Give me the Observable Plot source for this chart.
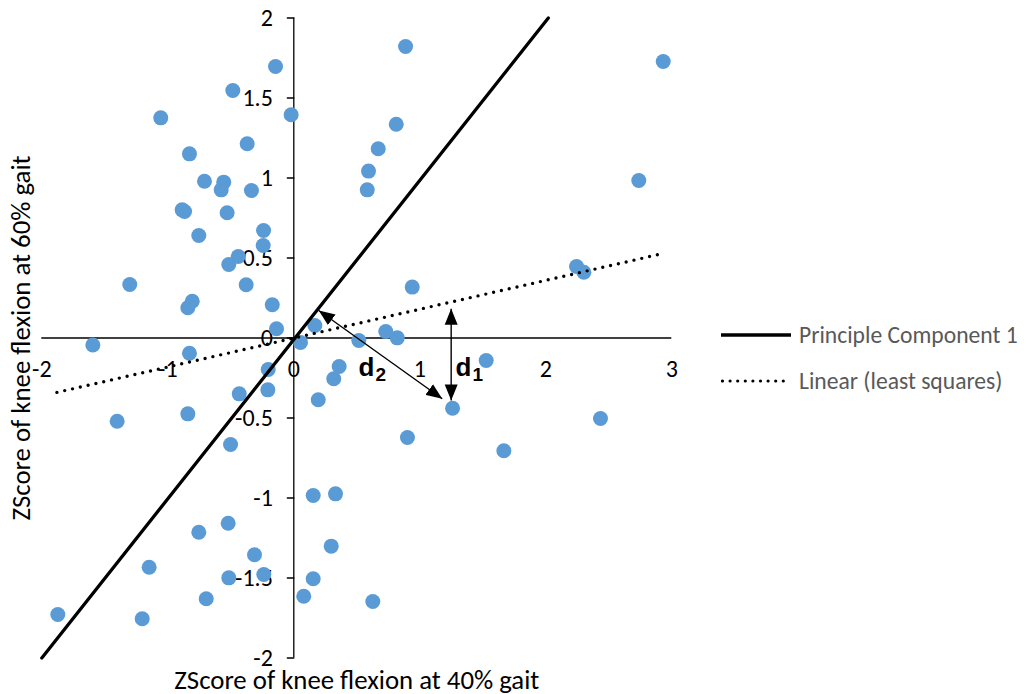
<!DOCTYPE html>
<html><head><meta charset="utf-8">
<script src="https://cdn.jsdelivr.net/npm/d3@7"></script>
<script src="https://cdn.jsdelivr.net/npm/@observablehq/plot@0.6"></script>
<style>
body{margin:0;background:#fff;}
#wrap{position:relative;width:1026px;height:694px;font-family:Carlito,Calibri,Lato,sans-serif;}
#legend{position:absolute;left:721px;top:312px;color:#595959;font-size:23.6px;}
#legend .item{display:flex;align-items:center;height:46px;white-space:nowrap;}
#legend svg{margin-right:6px;}
</style></head><body><div id="wrap"><div id="legend"></div></div>
<script>
// scatter points (ZScore at 40% gait, ZScore at 60% gait)
const ptX = [-0.145,-0.484,-1.056,-0.021,-0.370,-0.828,-0.709,-0.556,-0.576,-0.336,
  -0.886,-0.867,-0.529,-0.754,-0.240,-0.243,-0.441,-0.516,-1.302,-0.378,
  -0.806,-0.841,-0.171,-0.137,0.167,-1.595,0.053,-0.828,0.887,2.932,
  0.813,0.670,0.593,0.583,2.738,2.244,2.302,0.940,0.730,0.821,
  0.516,-0.203,0.360,0.317,-0.433,-0.206,0.194,-1.402,-0.841,-0.502,
  0.154,0.331,-0.754,-0.521,0.297,-0.312,-1.148,-0.238,-0.516,0.154,
  -0.695,0.079,-1.873,-1.203,0.627,1.527,1.260,2.434,0.902,1.667];
const ptY = [1.697,1.547,1.376,1.395,1.214,1.151,0.980,0.974,0.926,0.922,
  0.801,0.791,0.783,0.641,0.672,0.578,0.509,0.459,0.334,0.333,
  0.230,0.189,0.208,0.058,0.078,-0.044,-0.028,-0.095,1.822,1.728,
  1.336,1.183,1.043,0.926,0.984,0.447,0.411,0.318,0.041,0.001,
  -0.016,-0.197,-0.178,-0.255,-0.349,-0.324,-0.386,-0.520,-0.474,-0.666,
  -0.984,-0.974,-1.214,-1.158,-1.301,-1.355,-1.433,-1.478,-1.499,-1.505,
  -1.630,-1.614,-1.728,-1.755,-1.647,-0.141,-0.439,-0.503,-0.622,-0.705];

// lines
const pcX = [-2, 2.02];          // Principle Component 1
const pcY = [-2, 2];
const lsX = [-1.88, 2.94];       // Linear (least squares)
const lsY = [-0.34, 0.53];

// distance arrows d2 (perpendicular) and d1 (vertical)
const arrowX1 = [0.198, 1.249];
const arrowY1 = [0.172, 0.183];
const arrowX2 = [1.178, 1.249];
const arrowY2 = [-0.380, -0.39];

// d labels
const labelX = [0.513, 1.283];
const labelY = [-0.24, -0.24];
const labelSub = ["2", "1"];

// ticks
const xTicks = [-2, -1, 0, 1, 2, 3];
const xTickLabels = ["-2", "-1", "0", "1", "2", "3"];
const yTicks = [2, 1.5, 1, 0.5, 0, -0.5, -1, -1.5, -2];
const yTickLabels = ["2", "1.5", "1", "0.5", "0", "-0.5", "-1", "-1.5", "-2"];

const xTitle = "ZScore of knee flexion at 40% gait";
const yTitle = "ZScore of knee flexion at 60% gait";
const legendNames = ["Principle Component 1", "Linear (least squares)"];

const points = ptX.map((x, i) => ({x, y: ptY[i]}));
const pcLine = pcX.map((x, i) => ({x, y: pcY[i]}));
const lsLine = lsX.map((x, i) => ({x, y: lsY[i]}));
const arrows = arrowX1.map((x1, i) => ({x1, y1: arrowY1[i], x2: arrowX2[i], y2: arrowY2[i]}));
const labels = labelX.map((x, i) => ({x, y: labelY[i], sub: labelSub[i]}));
const xt = xTicks.map((v, i) => ({v, t: xTickLabels[i]}));
const yt = yTicks.map((v, i) => ({v, t: yTickLabels[i]}));

const NS = "http://www.w3.org/2000/svg";
function headMarker(color, context) {
  const doc = (context && context.document) || document;
  const m = doc.createElementNS(NS, "marker");
  m.setAttribute("viewBox", "-16 -7 16 14");
  m.setAttribute("markerWidth", "16");
  m.setAttribute("markerHeight", "14");
  m.setAttribute("markerUnits", "userSpaceOnUse");
  m.setAttribute("refX", "0");
  m.setAttribute("refY", "0");
  m.setAttribute("orient", "auto-start-reverse");
  const p = doc.createElementNS(NS, "path");
  p.setAttribute("d", "M0,0L-16,-6.5L-16,6.5Z");
  p.setAttribute("fill", "black");
  p.setAttribute("stroke", "none");
  m.appendChild(p);
  return m;
}
const tickShape = {draw(ctx, l) { ctx.moveTo(0, 0); ctx.lineTo(0, -l); }};
const font = "Carlito, Calibri, Lato, sans-serif";

function build(marker) {
  return Plot.plot({
    width: 1026, height: 694,
    marginLeft: 41.3, marginRight: 354.7, marginTop: 17.5, marginBottom: 36.5,
    x: {domain: [-2, 3], axis: null},
    y: {domain: [-2, 2], axis: null},
    style: {fontFamily: font, background: "white", overflow: "visible"},
    marks: [
      Plot.ruleY([0], {x1: -2, x2: 3, stroke: "black", strokeWidth: 1.3}),
      Plot.ruleX([0], {y1: -2, y2: 2, stroke: "black", strokeWidth: 1.3}),
      Plot.vector(yTicks, {x: 0, y: d => d, length: 6.5, rotate: 270, anchor: "start", shape: tickShape, stroke: "black", strokeWidth: 1.3}),
      Plot.text(yt, {x: 0, y: "v", text: "t", textAnchor: "end", dx: -21, fontSize: 24, fill: "black"}),
      Plot.text(xt, {x: "v", y: 0, text: "t", dy: 31, fontSize: 24, fill: "black"}),
      Plot.dot(points, {x: "x", y: "y", r: 7.5, fill: "#5B9BD5", stroke: "none"}),
      Plot.line(pcLine, {x: "x", y: "y", stroke: "black", strokeWidth: 3.3}),
      Plot.line(lsLine, {x: "x", y: "y", stroke: "black", strokeWidth: 3.4, strokeDasharray: "0 8", strokeLinecap: "round"}),
      Plot.link(arrows, {x1: "x1", y1: "y1", x2: "x2", y2: "y2", stroke: "black", strokeWidth: 1.4, markerStart: marker, markerEnd: marker}),
      Plot.text(labels, {x: "x", y: "y", text: () => "d", textAnchor: "start", lineAnchor: "bottom", fontSize: 26, fontWeight: "bold", fontFamily: "Liberation Sans, Arial, sans-serif", fill: "black"}),
      Plot.text(labels, {x: "x", y: "y", text: "sub", textAnchor: "start", lineAnchor: "bottom", dx: 17, dy: 5, fontSize: 19, fontWeight: "bold", fontFamily: "Liberation Sans, Arial, sans-serif", fill: "black"}),
      Plot.text([xTitle], {frameAnchor: "bottom", text: d => d, dy: 31, lineAnchor: "bottom", fontSize: 26.8, fill: "black"}),
      Plot.text([yTitle], {frameAnchor: "left", text: d => d, dx: -20, rotate: -90, textAnchor: "middle", lineAnchor: "middle", fontSize: 26.8, fill: "black"})
    ]
  });
}
let chart;
try { chart = build(headMarker); } catch (e) { chart = build("arrow"); }
document.getElementById("wrap").prepend(chart);

// legend
const leg = document.getElementById("legend");
legendNames.forEach((name, i) => {
  const item = document.createElement("div");
  item.className = "item";
  const dash = i === 0 ? "" : 'stroke-dasharray="0 7.6" stroke-linecap="round"';
  const sw = i === 0 ? 3.3 : 3.2;
  const len = i === 0 ? 70 : 66;
  item.innerHTML = `<svg width="72" height="10"><line x1="${i===0?0:1.5}" y1="5" x2="${len}" y2="5" stroke="black" stroke-width="${sw}" ${dash}/></svg><span>${name}</span>`;
  leg.appendChild(item);
});
</script></body></html>
